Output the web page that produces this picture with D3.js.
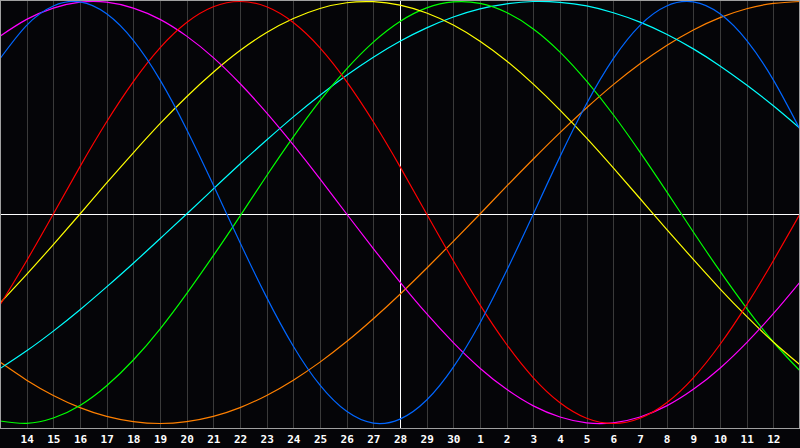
<!DOCTYPE html>
<html>
<head>
<meta charset="utf-8">
<script src="https://cdn.jsdelivr.net/npm/d3@7"></script>
<style>
  html, body { margin: 0; padding: 0; background: #050508; }
  svg { display: block; }
</style>
</head>
<body>
<div id="chart"></div>
<script>
// day labels under the grid lines (index 1..29)
const dayLabels = ['14', '15', '16', '17', '18', '19', '20', '21', '22', '23', '24', '25', '26', '27', '28', '29', '30',
    '1', '2', '3', '4', '5', '6', '7', '8', '9', '10', '11', '12'];
const todayIndex = 15;

// one value per day, index 0..30 (-1 .. 1)
const physical = [0.731, 0.888, 0.979, 0.998, 0.942, 0.817, 0.631, 0.398, 0.136, -0.136, -0.398, -0.631, -0.817, -0.942, -0.998, -0.979,
    -0.888, -0.731, -0.520, -0.270, 0.000, 0.270, 0.520, 0.731, 0.888, 0.979, 0.998, 0.942, 0.817, 0.631, 0.398];
const emotional = [-0.434, -0.223, 0, 0.223, 0.434, 0.623, 0.782, 0.901, 0.975, 1, 0.975, 0.901, 0.782, 0.623, 0.434, 0.223,
    0, -0.223, -0.434, -0.623, -0.782, -0.901, -0.975, -1, -0.975, -0.901, -0.782, -0.623, -0.434, -0.223, 0];
const intellectual = [-0.988, -0.999, -0.974, -0.914, -0.820, -0.697, -0.549, -0.380, -0.199, -0.010, 0.180, 0.363, 0.533, 0.683, 0.809, 0.906,
    0.970, 0.998, 0.991, 0.948, 0.871, 0.762, 0.625, 0.467, 0.291, 0.105, -0.086, -0.273, -0.450, -0.611, -0.749];
const intuitive = [0.837, 0.916, 0.969, 0.997, 0.997, 0.969, 0.916, 0.837, 0.736, 0.614, 0.476, 0.325, 0.165, 0, -0.165, -0.325,
    -0.476, -0.614, -0.736, -0.837, -0.916, -0.969, -0.997, -0.997, -0.969, -0.916, -0.837, -0.736, -0.614, -0.476, -0.325];
const aesthetic = [-0.425, -0.288, -0.146, 0.000, 0.146, 0.288, 0.425, 0.552, 0.667, 0.769, 0.854, 0.920, 0.967, 0.994, 0.999, 0.983,
    0.946, 0.889, 0.813, 0.720, 0.611, 0.489, 0.357, 0.217, 0.073, -0.073, -0.217, -0.357, -0.489, -0.611, -0.720];
const awareness = [-0.707, -0.793, -0.866, -0.924, -0.966, -0.991, -1, -0.991, -0.966, -0.924, -0.866, -0.793, -0.707, -0.609, -0.5, -0.383,
    -0.259, -0.131, 0, 0.131, 0.259, 0.383, 0.5, 0.609, 0.707, 0.793, 0.866, 0.924, 0.966, 0.991, 1];
const spiritual = [-0.738, -0.653, -0.559, -0.457, -0.348, -0.235, -0.118, 0.000, 0.118, 0.235, 0.348, 0.457, 0.559, 0.653, 0.738, 0.813,
    0.876, 0.927, 0.965, 0.989, 1.000, 0.996, 0.979, 0.947, 0.903, 0.846, 0.777, 0.697, 0.607, 0.509, 0.403];

const seriesNames = ['awareness', 'spiritual', 'intellectual', 'aesthetic', 'intuitive', 'emotional', 'physical'];
const seriesValues = [awareness, spiritual, intellectual, aesthetic, intuitive, emotional, physical];
const seriesColors = ['#ff8000', '#00ffff', '#00ff00', '#ffff00', '#ff00ff', '#ff0000', '#0066ff'];

const width = 800,
    height = 448,
    plotHeight = 428;

const svg = d3.select('#chart')
    .append('svg')
    .attr('width', width)
    .attr('height', height);

svg.append('rect')
    .attr('width', width)
    .attr('height', height)
    .attr('fill', '#050508');

const xScale = d3.scaleLinear()
    .domain([0, 30])
    .range([0, width]);
const yScale = d3.scaleLinear()
    .domain([-1, 0, 1])
    .range([423.5, 214, 1.5]);

const dayIdx = d3.range(1, 30);

// vertical grid
svg.append('g')
    .attr('class', 'grid')
    .selectAll('line')
    .data(dayIdx)
    .enter()
    .append('line')
    .attr('x1', d => Math.round(xScale(d)) + 0.5)
    .attr('x2', d => Math.round(xScale(d)) + 0.5)
    .attr('y1', 0)
    .attr('y2', plotHeight)
    .attr('stroke', '#3a3a3a')
    .attr('stroke-width', 1);

// zero line and today marker
svg.append('line')
    .attr('x1', 0)
    .attr('x2', width)
    .attr('y1', yScale(0) + 0.5)
    .attr('y2', yScale(0) + 0.5)
    .attr('stroke', '#ffffff');
svg.append('line')
    .attr('x1', xScale(todayIndex) + 0.5)
    .attr('x2', xScale(todayIndex) + 0.5)
    .attr('y1', 0)
    .attr('y2', plotHeight)
    .attr('stroke', '#ffffff');

const line = d3.line()
    .x((d, i) => xScale(i))
    .y(d => yScale(d))
    .curve(d3.curveNatural);

svg.append('g')
    .attr('class', 'curves')
    .selectAll('path')
    .data(seriesValues)
    .enter()
    .append('path')
    .attr('class', (d, i) => 'curve ' + seriesNames[i])
    .attr('d', line)
    .attr('fill', 'none')
    .attr('stroke', (d, i) => seriesColors[i])
    .attr('stroke-width', 1.2);

// frame
svg.append('rect')
    .attr('x', 0.5)
    .attr('y', 0.5)
    .attr('width', width - 1)
    .attr('height', plotHeight)
    .attr('fill', 'none')
    .attr('stroke', '#a0a0a0');

// day labels
const xAxis = d3.axisBottom(xScale)
    .tickValues(dayIdx)
    .tickFormat((d, i) => dayLabels[i])
    .tickSize(0)
    .tickPadding(7);
const axisG = svg.append('g')
    .attr('class', 'x-axis')
    .attr('transform', 'translate(0,' + plotHeight + ')')
    .call(xAxis);
axisG.select('.domain').remove();
axisG.selectAll('text')
    .attr('fill', '#ffffff')
    .style('font-family', '"DejaVu Sans Mono", monospace')
    .style('font-weight', 'bold')
    .style('font-size', '11px');
</script>
</body>
</html>
